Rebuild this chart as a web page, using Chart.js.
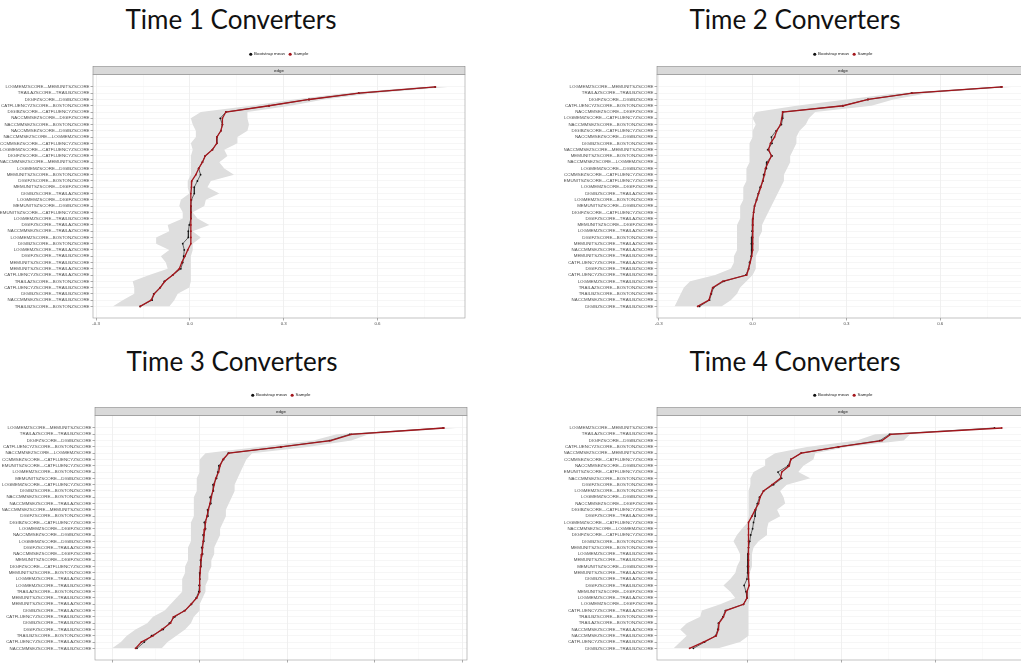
<!DOCTYPE html>
<html>
<head>
<meta charset="utf-8">
<script src="https://cdn.jsdelivr.net/npm/chart.js@4.4.1/dist/chart.umd.min.js"></script>
<style>
  html, body { margin: 0; padding: 0; background: #fff; }
  body { width: 1021px; height: 664px; overflow: hidden; position: relative; }
  .title { position: absolute; font-family: Lato, "Open Sans", sans-serif; font-size: 26px; line-height: 26px;
           color: #111; white-space: nowrap; transform: translateX(-50%); }
  canvas { position: absolute; }
</style>
</head>
<body>
<div class="title" style="left:231px;top:6px">Time 1 Converters</div>
<div class="title" style="left:795px;top:6px">Time 2 Converters</div>
<div class="title" style="left:232px;top:348px">Time 3 Converters</div>
<div class="title" style="left:795px;top:348px">Time 4 Converters</div>
<canvas id="c1" width="480" height="290" style="left:0px;top:40px"></canvas>
<canvas id="c2" width="480" height="290" style="left:564px;top:40px"></canvas>
<canvas id="c3" width="480" height="291" style="left:2px;top:381px"></canvas>
<canvas id="c4" width="480" height="291" style="left:564px;top:381px"></canvas>
<script>
// ---- edge names (top to bottom) and edge weights per time point ----
const edgesT1 = ['LOGMEMZSCORE—MEMUNITSZSCORE','TRAILAZSCORE—TRAILBZSCORE','DIGIFZSCORE—DIGIBZSCORE','CATFLUENCYZSCORE—BOSTONZSCORE','DIGIBZSCORE—CATFLUENCYZSCORE','NACCMMSEZSCORE—DIGIFZSCORE','NACCMMSEZSCORE—BOSTONZSCORE','NACCMMSEZSCORE—DIGIBZSCORE','NACCMMSEZSCORE—LOGMEMZSCORE','NACCMMSEZSCORE—CATFLUENCYZSCORE','LOGMEMZSCORE—CATFLUENCYZSCORE','DIGIFZSCORE—CATFLUENCYZSCORE','NACCMMSEZSCORE—MEMUNITSZSCORE','LOGMEMZSCORE—DIGIBZSCORE','MEMUNITSZSCORE—BOSTONZSCORE','DIGIFZSCORE—BOSTONZSCORE','MEMUNITSZSCORE—DIGIFZSCORE','DIGIBZSCORE—TRAILAZSCORE','LOGMEMZSCORE—DIGIFZSCORE','MEMUNITSZSCORE—DIGIBZSCORE','MEMUNITSZSCORE—CATFLUENCYZSCORE','LOGMEMZSCORE—TRAILBZSCORE','DIGIFZSCORE—TRAILAZSCORE','NACCMMSEZSCORE—TRAILAZSCORE','LOGMEMZSCORE—BOSTONZSCORE','DIGIBZSCORE—BOSTONZSCORE','LOGMEMZSCORE—TRAILAZSCORE','DIGIFZSCORE—TRAILBZSCORE','MEMUNITSZSCORE—TRAILBZSCORE','MEMUNITSZSCORE—TRAILAZSCORE','CATFLUENCYZSCORE—TRAILAZSCORE','TRAILAZSCORE—BOSTONZSCORE','CATFLUENCYZSCORE—TRAILBZSCORE','DIGIBZSCORE—TRAILBZSCORE','NACCMMSEZSCORE—TRAILBZSCORE','TRAILBZSCORE—BOSTONZSCORE'];
const sampleT1 = [0.785,0.540,0.381,0.253,0.115,0.104,0.104,0.099,0.086,0.086,0.072,0.049,0.040,0.028,0.019,0.006,0.005,0.003,0.003,0.003,0.003,0.003,0.003,0.003,0.003,0.003,-0.007,-0.016,-0.026,-0.034,-0.055,-0.080,-0.095,-0.114,-0.124,-0.159];
const bootT1   = [0.785,0.540,0.381,0.253,0.115,0.097,0.104,0.099,0.086,0.086,0.072,0.049,0.040,0.028,0.034,0.024,0.014,0.014,0.005,0.003,0.003,0.003,-0.002,-0.005,-0.005,-0.023,-0.018,-0.020,-0.023,-0.029,-0.055,-0.082,-0.095,-0.116,-0.121,-0.159];
const lowerT1  = [0.737,0.492,0.333,0.195,0.035,0.003,0.009,0.019,0.019,0.003,0.009,0.003,0.003,0.003,0.003,-0.007,-0.007,-0.002,-0.029,-0.034,-0.023,-0.023,-0.071,-0.066,-0.108,-0.108,-0.066,-0.093,-0.077,-0.071,-0.130,-0.183,-0.178,-0.178,-0.215,-0.247];
const upperT1  = [0.827,0.588,0.429,0.322,0.184,0.184,0.189,0.184,0.152,0.152,0.110,0.120,0.094,0.110,0.141,0.067,0.056,0.094,0.051,0.046,0.009,0.024,0.062,0.009,0.035,0.009,0.009,0.003,0.003,0.003,0.003,0.003,-0.002,-0.039,-0.050,-0.066];

const edgesT2 = ['LOGMEMZSCORE—MEMUNITSZSCORE','TRAILAZSCORE—TRAILBZSCORE','DIGIFZSCORE—DIGIBZSCORE','CATFLUENCYZSCORE—BOSTONZSCORE','NACCMMSEZSCORE—DIGIFZSCORE','LOGMEMZSCORE—CATFLUENCYZSCORE','NACCMMSEZSCORE—BOSTONZSCORE','DIGIBZSCORE—CATFLUENCYZSCORE','NACCMMSEZSCORE—DIGIBZSCORE','DIGIBZSCORE—BOSTONZSCORE','NACCMMSEZSCORE—MEMUNITSZSCORE','MEMUNITSZSCORE—BOSTONZSCORE','NACCMMSEZSCORE—LOGMEMZSCORE','LOGMEMZSCORE—DIGIBZSCORE','NACCMMSEZSCORE—CATFLUENCYZSCORE','MEMUNITSZSCORE—CATFLUENCYZSCORE','LOGMEMZSCORE—DIGIFZSCORE','DIGIBZSCORE—TRAILAZSCORE','LOGMEMZSCORE—BOSTONZSCORE','MEMUNITSZSCORE—DIGIBZSCORE','DIGIFZSCORE—CATFLUENCYZSCORE','DIGIFZSCORE—TRAILAZSCORE','MEMUNITSZSCORE—DIGIFZSCORE','LOGMEMZSCORE—TRAILAZSCORE','DIGIFZSCORE—BOSTONZSCORE','MEMUNITSZSCORE—TRAILAZSCORE','NACCMMSEZSCORE—TRAILAZSCORE','MEMUNITSZSCORE—TRAILBZSCORE','CATFLUENCYZSCORE—TRAILAZSCORE','DIGIFZSCORE—TRAILBZSCORE','CATFLUENCYZSCORE—TRAILBZSCORE','LOGMEMZSCORE—TRAILBZSCORE','TRAILAZSCORE—BOSTONZSCORE','TRAILBZSCORE—BOSTONZSCORE','NACCMMSEZSCORE—TRAILBZSCORE','DIGIBZSCORE—TRAILBZSCORE'];
const sampleT2 = [0.798,0.511,0.370,0.290,0.096,0.093,0.089,0.077,0.070,0.057,0.051,0.060,0.050,0.041,0.038,0.032,0.026,0.019,0.013,0.006,0.003,0.001,0.000,0.000,0.000,0.000,0.000,-0.003,-0.008,-0.013,-0.019,-0.096,-0.128,-0.134,-0.140,-0.176];
const bootT2   = [0.795,0.508,0.368,0.288,0.096,0.096,0.092,0.075,0.060,0.062,0.048,0.062,0.045,0.044,0.035,0.033,0.024,0.018,0.012,0.006,0.003,0.001,0.000,-0.002,-0.003,-0.004,-0.003,-0.005,-0.010,-0.013,-0.022,-0.092,-0.125,-0.132,-0.138,-0.170];
const lowerT2  = [0.760,0.460,0.300,0.140,0.010,0.000,0.010,0.000,0.000,-0.010,-0.010,-0.010,-0.010,-0.020,-0.020,-0.020,-0.030,-0.030,-0.030,-0.040,-0.040,-0.040,-0.050,-0.050,-0.050,-0.050,-0.050,-0.060,-0.060,-0.070,-0.120,-0.200,-0.220,-0.230,-0.240,-0.250];
const upperT2  = [0.830,0.560,0.450,0.380,0.200,0.180,0.170,0.150,0.140,0.140,0.130,0.120,0.120,0.110,0.100,0.100,0.090,0.080,0.070,0.060,0.050,0.040,0.030,0.030,0.020,0.020,0.020,0.010,0.010,0.010,0.000,-0.020,-0.040,-0.050,-0.070,-0.100];

const edgesT3 = ['LOGMEMZSCORE—MEMUNITSZSCORE','TRAILAZSCORE—TRAILBZSCORE','DIGIFZSCORE—DIGIBZSCORE','CATFLUENCYZSCORE—BOSTONZSCORE','NACCMMSEZSCORE—LOGMEMZSCORE','NACCMMSEZSCORE—CATFLUENCYZSCORE','MEMUNITSZSCORE—CATFLUENCYZSCORE','LOGMEMZSCORE—BOSTONZSCORE','MEMUNITSZSCORE—DIGIBZSCORE','LOGMEMZSCORE—CATFLUENCYZSCORE','DIGIBZSCORE—BOSTONZSCORE','NACCMMSEZSCORE—BOSTONZSCORE','NACCMMSEZSCORE—TRAILAZSCORE','NACCMMSEZSCORE—MEMUNITSZSCORE','DIGIFZSCORE—BOSTONZSCORE','DIGIBZSCORE—CATFLUENCYZSCORE','LOGMEMZSCORE—DIGIFZSCORE','NACCMMSEZSCORE—DIGIBZSCORE','LOGMEMZSCORE—DIGIBZSCORE','DIGIFZSCORE—TRAILAZSCORE','NACCMMSEZSCORE—DIGIFZSCORE','MEMUNITSZSCORE—DIGIFZSCORE','DIGIFZSCORE—CATFLUENCYZSCORE','MEMUNITSZSCORE—BOSTONZSCORE','LOGMEMZSCORE—TRAILAZSCORE','LOGMEMZSCORE—TRAILBZSCORE','TRAILAZSCORE—BOSTONZSCORE','MEMUNITSZSCORE—TRAILBZSCORE','MEMUNITSZSCORE—TRAILAZSCORE','DIGIBZSCORE—TRAILAZSCORE','CATFLUENCYZSCORE—TRAILBZSCORE','DIGIBZSCORE—TRAILBZSCORE','DIGIFZSCORE—TRAILBZSCORE','TRAILBZSCORE—BOSTONZSCORE','CATFLUENCYZSCORE—TRAILAZSCORE','NACCMMSEZSCORE—TRAILBZSCORE'];
const sampleT3 = [0.838,0.520,0.450,0.280,0.100,0.080,0.070,0.065,0.055,0.050,0.045,0.040,0.035,0.030,0.025,0.020,0.018,0.015,0.012,0.010,0.008,0.005,0.003,0.002,0.000,0.000,0.000,-0.010,-0.030,-0.050,-0.090,-0.100,-0.130,-0.160,-0.200,-0.220];
const bootT3   = [0.835,0.515,0.445,0.278,0.098,0.082,0.066,0.062,0.058,0.046,0.047,0.036,0.038,0.027,0.028,0.016,0.020,0.012,0.014,0.007,0.010,0.003,0.004,0.000,0.001,-0.002,-0.003,-0.012,-0.028,-0.052,-0.085,-0.104,-0.125,-0.165,-0.190,-0.215];
const lowerT3  = [0.800,0.470,0.390,0.200,0.020,0.000,0.000,0.000,-0.010,-0.010,-0.010,-0.020,-0.020,-0.020,-0.020,-0.030,-0.030,-0.030,-0.030,-0.040,-0.040,-0.040,-0.050,-0.050,-0.060,-0.060,-0.060,-0.080,-0.100,-0.120,-0.160,-0.180,-0.220,-0.250,-0.270,-0.300];
const upperT3  = [0.880,0.580,0.520,0.370,0.180,0.160,0.150,0.140,0.130,0.120,0.120,0.110,0.100,0.090,0.090,0.080,0.070,0.070,0.060,0.050,0.050,0.040,0.040,0.030,0.030,0.020,0.020,0.010,0.000,0.000,-0.020,-0.030,-0.050,-0.080,-0.110,-0.130];

const edgesT4 = ['LOGMEMZSCORE—MEMUNITSZSCORE','TRAILAZSCORE—TRAILBZSCORE','DIGIFZSCORE—DIGIBZSCORE','CATFLUENCYZSCORE—BOSTONZSCORE','NACCMMSEZSCORE—MEMUNITSZSCORE','NACCMMSEZSCORE—CATFLUENCYZSCORE','NACCMMSEZSCORE—DIGIBZSCORE','MEMUNITSZSCORE—CATFLUENCYZSCORE','NACCMMSEZSCORE—BOSTONZSCORE','DIGIFZSCORE—BOSTONZSCORE','LOGMEMZSCORE—BOSTONZSCORE','LOGMEMZSCORE—DIGIBZSCORE','NACCMMSEZSCORE—DIGIFZSCORE','DIGIBZSCORE—CATFLUENCYZSCORE','DIGIFZSCORE—TRAILAZSCORE','LOGMEMZSCORE—CATFLUENCYZSCORE','NACCMMSEZSCORE—LOGMEMZSCORE','DIGIFZSCORE—CATFLUENCYZSCORE','DIGIBZSCORE—BOSTONZSCORE','MEMUNITSZSCORE—BOSTONZSCORE','LOGMEMZSCORE—TRAILBZSCORE','MEMUNITSZSCORE—TRAILBZSCORE','MEMUNITSZSCORE—DIGIBZSCORE','MEMUNITSZSCORE—TRAILAZSCORE','DIGIBZSCORE—TRAILAZSCORE','DIGIFZSCORE—TRAILBZSCORE','MEMUNITSZSCORE—DIGIFZSCORE','LOGMEMZSCORE—TRAILAZSCORE','LOGMEMZSCORE—DIGIFZSCORE','CATFLUENCYZSCORE—TRAILAZSCORE','TRAILBZSCORE—BOSTONZSCORE','TRAILAZSCORE—BOSTONZSCORE','NACCMMSEZSCORE—TRAILAZSCORE','NACCMMSEZSCORE—TRAILBZSCORE','CATFLUENCYZSCORE—TRAILBZSCORE','DIGIBZSCORE—TRAILBZSCORE'];
const sampleT4 = [0.810,0.456,0.428,0.289,0.170,0.137,0.132,0.108,0.104,0.077,0.050,0.039,0.034,0.023,0.013,0.002,0.002,0.002,0.002,0.002,0.002,0.002,0.002,0.002,0.002,0.004,-0.003,-0.003,-0.014,-0.070,-0.078,-0.092,-0.094,-0.101,-0.142,-0.186];
const bootT4   = [0.787,0.452,0.421,0.289,0.170,0.137,0.128,0.096,0.108,0.082,0.050,0.037,0.030,0.025,0.023,0.018,0.015,0.009,0.006,0.002,0.000,0.000,-0.001,-0.001,-0.003,-0.012,-0.006,-0.003,-0.014,-0.072,-0.080,-0.094,-0.096,-0.103,-0.138,-0.174];
const lowerT4  = [0.770,0.406,0.348,0.188,0.087,0.055,0.055,0.018,0.008,0.008,0.002,0.002,0.002,0.002,0.002,-0.001,-0.019,-0.035,-0.046,-0.035,-0.025,-0.025,-0.035,-0.040,-0.056,-0.078,-0.056,-0.040,-0.088,-0.147,-0.152,-0.195,-0.216,-0.195,-0.216,-0.237];
const upperT4  = [0.830,0.518,0.497,0.316,0.215,0.209,0.177,0.161,0.199,0.124,0.103,0.114,0.119,0.093,0.103,0.066,0.061,0.061,0.034,0.018,0.013,0.013,0.013,0.006,0.006,0.006,0.006,0.006,0.002,0.002,0.002,0.002,0.002,0.002,-0.025,-0.094];

// x-axis breaks (major every 0.3, minor halfway)
const xBreaks = [-0.45,-0.3,-0.15,0,0.15,0.3,0.45,0.6,0.75,0.9];
const seriesNames = ['Bootstrap mean','Sample'];
const stripLabel = 'edge';

const FONT = '"Liberation Sans", Arial, sans-serif';
const SMALL = 4.4;
const isMajor = v => Math.abs(Math.round(v / 0.3) * 0.3 - v) < 1e-6;

// strip box above the panel plus the panel frame
const facetPlugin = {
  id: 'facet',
  afterDatasetsDraw(chart) {
    const {ctx, chartArea: a} = chart;
    const s = chart.scales.x2;
    ctx.save();
    ctx.lineWidth = 0.6;
    ctx.strokeStyle = '#9a9a9a';
    ctx.strokeRect(a.left, a.top, a.right - a.left, a.bottom - a.top);
    ctx.fillStyle = '#d9d9d9';
    ctx.fillRect(a.left, s.top, a.right - a.left, s.bottom - s.top);
    ctx.strokeStyle = '#8a8a8a';
    ctx.strokeRect(a.left, s.top, a.right - a.left, s.bottom - s.top);
    ctx.fillStyle = '#1a1a1a';
    ctx.font = SMALL + 'px ' + FONT;
    ctx.textAlign = 'center';
    ctx.textBaseline = 'middle';
    ctx.fillText(stripLabel, (a.left + a.right) / 2, (s.top + s.bottom) / 2);
    ctx.restore();
  }
};

function panel(id, edges, boot, sample, lower, upper, xmin, xmax) {
  const pts = arr => arr.map((v, i) => ({x: v, y: i + 1}));
  new Chart(document.getElementById(id), {
    type: 'line',
    data: {
      datasets: [
        {label: seriesNames[0], data: pts(boot), borderColor: '#111', backgroundColor: '#111',
         borderWidth: 0.6, pointRadius: 0.9, pointBorderWidth: 0, pointBackgroundColor: '#111', order: 1},
        {label: seriesNames[1], data: pts(sample), borderColor: '#a3161c', backgroundColor: '#a3161c',
         borderWidth: 1.3, pointRadius: 0.9, pointBorderWidth: 0, pointBackgroundColor: '#a3161c', order: 0},
        {label: 'upper', data: pts(upper), borderWidth: 0, borderColor: 'transparent', pointRadius: 0,
         fill: '+1', backgroundColor: '#dedede', order: 2},
        {label: 'lower', data: pts(lower), borderWidth: 0, borderColor: 'transparent', pointRadius: 0,
         fill: false, order: 3}
      ]
    },
    options: {
      indexAxis: 'y',
      responsive: false,
      devicePixelRatio: 1,
      animation: false,
      layout: {padding: {top: 8, right: 15, left: 0, bottom: 0}},
      plugins: {
        tooltip: {enabled: false},
        legend: {
          display: true, position: 'top', fullSize: false, align: 'center',
          labels: {
            usePointStyle: true, pointStyle: 'circle', boxWidth: 2.2, boxHeight: 2.2, padding: 4,
            color: '#1a1a1a', font: {size: SMALL, family: FONT},
            generateLabels: chart => Chart.defaults.plugins.legend.labels.generateLabels(chart)
              .filter(item => item.datasetIndex < 2)
              .map(item => Object.assign(item, {lineWidth: 0, strokeStyle: 'rgba(0,0,0,0)'})),
            sort: (a, b) => a.datasetIndex - b.datasetIndex
          }
        }
      },
      scales: {
        x: {
          type: 'linear', position: 'bottom', min: xmin, max: xmax,
          afterBuildTicks: s => { s.ticks = xBreaks.filter(v => v >= xmin && v <= xmax).map(v => ({value: v})); },
          afterFit: s => { s.height = 12; },
          ticks: {
            autoSkip: false, maxRotation: 0, padding: 1, color: '#4d4d4d',
            font: {size: SMALL, family: FONT},
            callback: v => isMajor(v) ? v.toFixed(1) : ''
          },
          grid: {
            color: c => (c.tick && isMajor(c.tick.value)) ? '#e6e6e6' : '#f2f2f2',
            lineWidth: c => (c.tick && isMajor(c.tick.value)) ? 0.6 : 0.4,
            tickLength: 2.5, tickWidth: 0.5,
            tickColor: c => (c.tick && isMajor(c.tick.value)) ? '#555' : 'rgba(0,0,0,0)'
          },
          border: {display: false}
        },
        x2: {
          type: 'linear', position: 'top', display: true,
          ticks: {display: false}, grid: {display: false, drawTicks: false}, border: {display: false},
          afterFit: s => { s.height = 8; }
        },
        y: {
          type: 'linear', reverse: true, min: -1.0, max: 37.85,
          afterBuildTicks: s => { s.ticks = edges.map((_, i) => ({value: i + 1})); },
          afterFit: s => { s.width = 93; },
          ticks: {
            autoSkip: false, padding: 1, color: '#4d4d4d', font: {size: SMALL, family: FONT},
            callback: v => edges[v - 1]
          },
          grid: {color: '#ececec', lineWidth: 0.5, tickLength: 2.5, tickWidth: 0.5, tickColor: '#555'},
          border: {display: false}
        }
      }
    },
    plugins: [facetPlugin]
  });
}

panel('c1', edgesT1, bootT1, sampleT1, lowerT1, upperT1, -0.31, 0.88);
panel('c2', edgesT2, bootT2, sampleT2, lowerT2, upperT2, -0.306, 0.884);
panel('c3', edgesT3, bootT3, sampleT3, lowerT3, upperT3, -0.359, 0.917);
panel('c4', edgesT4, bootT4, sampleT4, lowerT4, upperT4, -0.29, 0.897);
</script>
</body>
</html>
